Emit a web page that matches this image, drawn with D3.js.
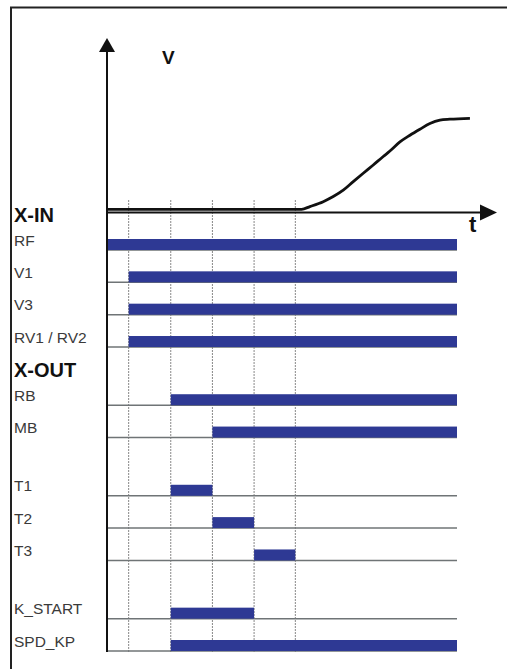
<!DOCTYPE html>
<html>
<head>
  <meta charset="utf-8" />
  <title>Timing diagram</title>
  <script src="https://d3js.org/d3.v7.min.js"></script>
  <style>
    body { margin: 0; background: #fff; }
    svg { display: block; font-family: "Liberation Sans", Arial, sans-serif; }
    .lbl { font-size: 15.5px; fill: #3a3a3a; }
    .head { font-size: 20px; font-weight: bold; fill: #111; }
  </style>
</head>
<body>
<svg id="chart" width="507" height="669"></svg>
<script>
  // signal rows (top to bottom)
  var signals  = ["RF", "V1", "V3", "RV1 / RV2", "RB", "MB", "T1", "T2", "T3", "K_START", "SPD_KP"];
  var onTimes  = [0,    0.52, 0.52, 0.52,        1.53, 2.53, 1.53, 2.53, 3.53, 1.53,      1.53];
  var offTimes = [8.4,  8.4,  8.4,  8.4,         8.4,  8.4,  2.53, 3.53, 4.52, 3.53,      8.4];
  // block each row belongs to (rows of a new block start after a gap)
  var blocks   = [0,    0,    0,    0,           1,    1,    2,    2,    2,    3,         3];
  var headers  = ["X-IN", "X-OUT"];
  var headerBlocks = [0, 1];

  // step events (dotted guide lines)
  var events = [0.52, 1.53, 2.53, 3.53, 4.52];

  // speed curve V(t), percent of final speed
  var vTime  = [0, 4.67, 4.87, 5.19, 5.43, 5.67, 5.91, 6.15, 6.39, 6.63, 6.79, 7.03, 7.27, 7.51, 7.75, 7.99, 8.23, 8.71];
  var vSpeed = [0, 0,    3,    8.4,  14,   21,   30.4, 39.6, 48.7, 58,   64,   74,   81.4, 88,   94.2, 97.9, 99,   100];

  var svg = d3.select("#chart");

  var x = d3.scaleLinear().domain([0, 8.4]).range([107, 457]);
  var GAP = 0.8;
  var slot = function(i) { return i + GAP * blocks[i]; };
  var lastSlot = slot(signals.length - 1);
  var y = d3.scaleLinear().domain([0, lastSlot]).range([250, 651]);
  var v = d3.scaleLinear().domain([0, 100]).range([209.3, 118.3]);
  var barH = 11;

  // frame
  svg.append("path")
    .attr("d", "M11,669 V7.5 H507")
    .attr("fill", "none")
    .attr("stroke", "#222")
    .attr("stroke-width", 2);

  // dotted guide lines
  svg.selectAll("line.guide")
    .data(events)
    .enter().append("line")
    .attr("class", "guide")
    .attr("x1", function(d) { return x(d); })
    .attr("x2", function(d) { return x(d); })
    .attr("y1", 200)
    .attr("y2", 652)
    .attr("stroke", "#888")
    .attr("stroke-width", 1)
    .attr("stroke-dasharray", "2,1");

  // row baselines
  svg.selectAll("line.base")
    .data(signals)
    .enter().append("line")
    .attr("class", "base")
    .attr("x1", x(0))
    .attr("x2", x(8.4))
    .attr("y1", function(d, i) { return y(slot(i)); })
    .attr("y2", function(d, i) { return y(slot(i)); })
    .attr("stroke", "#6f7476")
    .attr("stroke-width", 1.5);

  // bars
  svg.selectAll("rect.bar")
    .data(signals)
    .enter().append("rect")
    .attr("class", "bar")
    .attr("x", function(d, i) { return x(onTimes[i]); })
    .attr("width", function(d, i) { return x(offTimes[i]) - x(onTimes[i]); })
    .attr("y", function(d, i) { return y(slot(i)) - barH; })
    .attr("height", barH)
    .attr("fill", "#2e3994");

  // row labels
  svg.selectAll("text.lbl")
    .data(signals)
    .enter().append("text")
    .attr("class", "lbl")
    .attr("x", 14)
    .attr("y", function(d, i) { return y(slot(i)) - 4.5; })
    .text(function(d) { return d; });

  // group headers
  svg.selectAll("text.head")
    .data(headers)
    .enter().append("text")
    .attr("class", "head")
    .attr("x", 14)
    .attr("y", function(d, i) {
      var first = blocks.indexOf(headerBlocks[i]);
      return y(slot(first)) - 28.5;
    })
    .text(function(d) { return d; });

  // speed curve
  var line = d3.line()
    .x(function(d) { return x(d[0]); })
    .y(function(d) { return v(d[1]); })
    .curve(d3.curveMonotoneX);

  svg.append("path")
    .datum(d3.zip(vTime, vSpeed))
    .attr("d", line)
    .attr("fill", "none")
    .attr("stroke", "#111")
    .attr("stroke-width", 2.8);

  // axes
  var ax = svg.append("g").attr("stroke", "#111").attr("fill", "#111");
  ax.append("line")
    .attr("x1", 107).attr("x2", 107)
    .attr("y1", 50).attr("y2", 652)
    .attr("stroke-width", 2);
  ax.append("path")
    .attr("d", "M107,38 L99,52 L115,52 Z")
    .attr("stroke", "none");
  ax.append("line")
    .attr("x1", 107).attr("x2", 484)
    .attr("y1", 212.5).attr("y2", 212.5)
    .attr("stroke-width", 2);
  ax.append("path")
    .attr("d", "M497,212.5 L480,204.5 L480,220.5 Z")
    .attr("stroke", "none");

  svg.append("text")
    .attr("x", 162).attr("y", 64)
    .attr("font-size", 19)
    .attr("font-weight", "bold")
    .attr("fill", "#111")
    .text("V");

  svg.append("text")
    .attr("x", 469).attr("y", 232)
    .attr("font-size", 22)
    .attr("font-weight", "bold")
    .attr("fill", "#111")
    .text("t");
</script>
</body>
</html>
